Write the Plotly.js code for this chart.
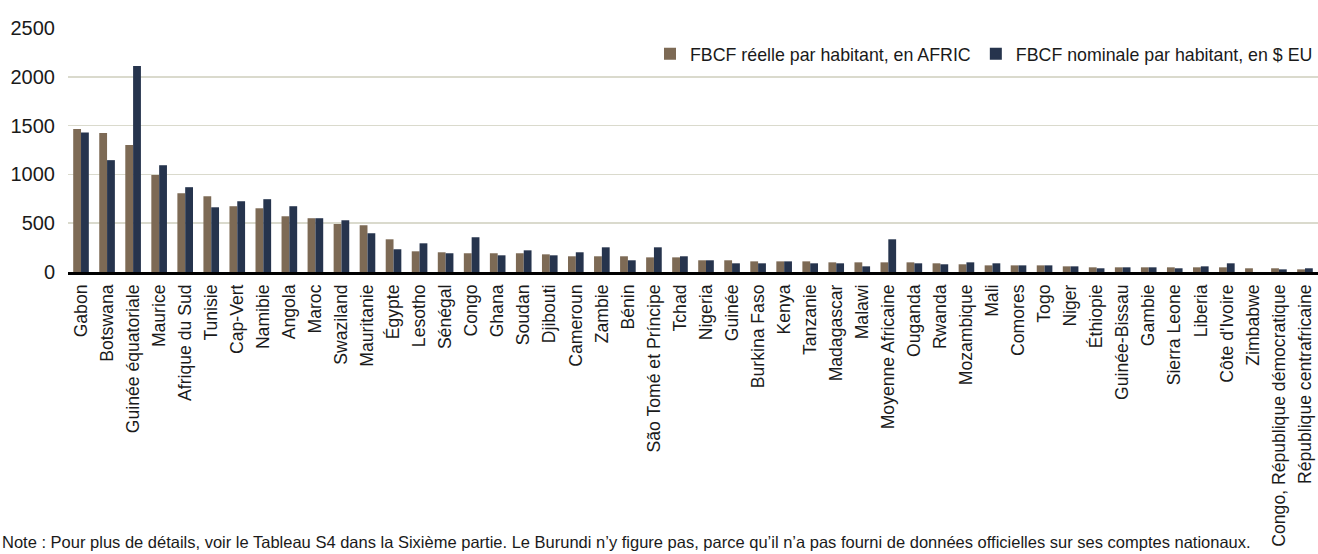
<!DOCTYPE html>
<html>
<head>
<meta charset="utf-8">
<script src="https://cdn.plot.ly/plotly-3.0.1.min.js"></script>
<style>html,body{margin:0;padding:0;background:#fff}#chart{width:1318px;height:554px}</style>
</head>
<body>
<div id="chart"></div>
<script>
const categories = ["Gabon","Botswana","Guinée équatoriale","Maurice","Afrique du Sud","Tunisie","Cap-Vert","Namibie","Angola","Maroc","Swaziland","Mauritanie","Égypte","Lesotho","Sénégal","Congo","Ghana","Soudan","Djibouti","Cameroun","Zambie","Bénin","São Tomé et Príncipe","Tchad","Nigeria","Guinée","Burkina Faso","Kenya","Tanzanie","Madagascar","Malawi","Moyenne Africaine","Ouganda","Rwanda","Mozambique","Mali","Comores","Togo","Niger","Éthiopie","Guinée-Bissau","Gambie","Sierra Leone","Liberia","Côte d'Ivoire","Zimbabwe","Congo, République démocratique","République centrafricaine"];
const reelleAFRIC = [1464,1423,1300,995,807,776,674,653,571,551,492,479,335,212,202,192,192,192,181,161,161,161,150,150,120,120,109,109,109,99,99,99,99,89,79,68,68,68,58,48,48,48,48,48,48,38,38,27];
const nominaleUSD = [1430,1146,2110,1094,869,663,725,746,674,551,530,397,233,294,192,356,171,222,171,202,253,120,253,161,120,89,89,109,89,89,58,335,89,79,99,89,68,68,58,38,48,48,38,58,89,null,27,38];
const seriesNames = ["FBCF réelle par habitant, en AFRIC","FBCF nominale par habitant, en $ EU"];
const yTicks = [0,500,1000,1500,2000,2500];
const noteText = "Note : Pour plus de détails, voir le Tableau S4 dans la Sixième partie. Le Burundi n’y figure pas, parce qu’il n’a pas fourni de données officielles sur ses comptes nationaux.";

const baseFont = "Liberation Sans, Arial, sans-serif";

const traces = [
  {type:"bar", name:seriesNames[0], x:categories, y:reelleAFRIC, marker:{color:"#7d6a55"}},
  {type:"bar", name:seriesNames[1], x:categories, y:nominaleUSD, marker:{color:"#26344d"}}
];

const layout = {
  width:1318, height:554,
  margin:{l:68, r:0, t:28, b:282, pad:0},
  paper_bgcolor:"#fff", plot_bgcolor:"#fff",
  barmode:"group", bargap:0.4, bargroupgap:0,
  showlegend:true,
  legend:{orientation:"h", x:1, xanchor:"right", y:0.893, yanchor:"middle",
          font:{family:baseFont, size:17.8, color:"#1a1a1a"}, bgcolor:"rgba(0,0,0,0)",
          traceorder:"normal", itemwidth:30},
  xaxis:{type:"category", tickangle:-90, tickfont:{family:baseFont, size:17.6, color:"#1a1a1a"},
         showgrid:false, zeroline:false, showline:true, linecolor:"#000", linewidth:2.5,
         ticks:"outside", ticklen:3, tickcolor:"rgba(0,0,0,0)", automargin:false},
  yaxis:{range:[0,2500], tickvals:yTicks, ticktext:yTicks.map(String),
         tickfont:{family:baseFont, size:20, color:"#1a1a1a"},
         showgrid:true, gridcolor:"#dadacd", gridwidth:1.5, zeroline:false, showline:false,
         ticks:"outside", ticklen:8, tickcolor:"rgba(0,0,0,0)", automargin:false, fixedrange:true},
  annotations:[{text:noteText, xref:"paper", yref:"paper", x:-68/1250, xanchor:"left",
                y:(271.7-541)/243.7, yanchor:"middle", showarrow:false,
                font:{family:baseFont, size:16.5, color:"#1a1a1a"}}]
};

Plotly.newPlot("chart", traces, layout, {displayModeBar:false, staticPlot:true});
</script>
</body>
</html>
